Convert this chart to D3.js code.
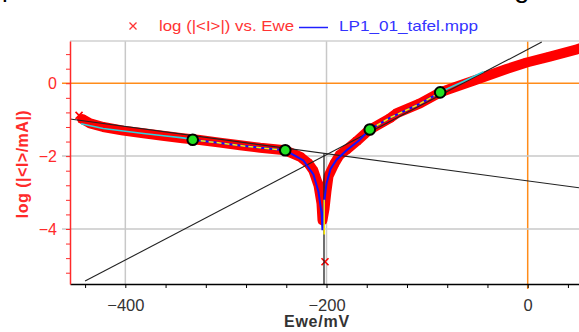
<!DOCTYPE html>
<html>
<head>
<meta charset="utf-8">
<script src="https://cdn.jsdelivr.net/npm/d3@7"></script>
<style>
body { margin: 0; background: #fff; }
svg { display: block; font-family: "Liberation Sans", Arial, sans-serif; }
</style>
</head>
<body>
<div id="chart-area"></div>
<script>
// measured points: Ewe (mV) and log(|I|/mA)
var measE    = [-446, -443, -435, -422, -402, -382, -363, -343, -326, -306, -286, -266, -241, -226, -218, -213, -208, -205, -204, -202, -200, -198, -192, -187, -180, -170, -158, -137, -130, -107, -87, -77, -54, -21, -1, 22, 49, 52];
var measLogI = [-0.88, -0.98, -1.10, -1.20, -1.30, -1.37, -1.44, -1.51, -1.56, -1.63, -1.70, -1.77, -1.84, -2.02, -2.20, -2.40, -2.80, -3.30, -3.76, -3.45, -2.95, -2.55, -2.20, -1.97, -1.82, -1.59, -1.29, -0.96, -0.82, -0.55, -0.25, -0.15, 0.07, 0.39, 0.57, 0.73, 0.93, 0.96];
var strayE = [-201.5];
var strayLogI = [-4.9];

// LP1_01_tafel.mpp curve
var fileE    = [-333, -306, -286, -266, -241, -223, -213, -208, -205, -204, -202.5, -200, -196, -190, -180, -168, -157, -137, -107, -87];
var fileLogI = [-1.55, -1.64, -1.71, -1.77, -1.84, -2.12, -2.50, -2.98, -3.55, -4.03, -3.30, -2.75, -2.35, -2.10, -1.84, -1.58, -1.27, -0.95, -0.56, -0.25];

// fitted curve outside the fit windows
var fitLeftE = [-444, -422, -402, -382, -362, -343, -333];
var fitLeftLogI = [-1.11, -1.24, -1.31, -1.38, -1.44, -1.50, -1.54];
var fitRightE = [-87, -64, -44];
var fitRightLogI = [-0.24, 0.05, 0.32];
var dipE = [-202.3, -202.3];
var dipLogI = [-3.2, -4.15];

// Tafel lines and corrosion point
var anodicE = [-440, 14];
var anodicLogI = [-5.43, 1.13];
var cathodicE = [-455, 51];
var cathodicLogI = [-0.98, -2.87];
var ecorr = -202.5;
var icorrLog = -1.93;

// fit window limits
var markE = [-333, -241, -157, -87];
var markLogI = [-1.55, -1.84, -1.27, -0.25];

var xTickLabels = [-400, -200, 0];
var yTickLabels = [-4, -2, 0];

var width = 579, height = 332;
var margin = { left: 70, right: 0, top: 41, bottom: 48 };
var red = "#ff2a2a";

var svg = d3.select("#chart-area")
    .append("svg")
    .attr("width", width)
    .attr("height", height);

var x = d3.scaleLinear()
    .domain([-455, 51])
    .range([margin.left, width - margin.right]);

var y = d3.scaleLinear()
    .domain([-5.51, 1.16])
    .range([height - margin.bottom, margin.top]);

var pts = function (xs, ys) {
    return xs.map(function (d, i) { return [d, ys[i]]; });
};
var line = d3.line()
    .x(function (d) { return x(d[0]); })
    .y(function (d) { return y(d[1]); });

// descenders of the page text above, clipped by the top edge
svg.append("text").attr("x", 2).attr("y", -3).attr("font-size", "26px").attr("fill", "#000").text("p");
svg.append("text").attr("x", 514).attr("y", -3).attr("font-size", "28px").attr("fill", "#000").text("g");

// grid
var gridColor = function (v) { return v === 0 ? "#ff8c1a" : "#c8c8c8"; };
svg.selectAll(".vgrid")
    .data(xTickLabels)
    .enter().append("line")
    .attr("x1", function (d) { return x(d); })
    .attr("x2", function (d) { return x(d); })
    .attr("y1", y.range()[1])
    .attr("y2", function (d) { return d === 0 ? y.range()[0] + 5 : y.range()[0]; })
    .attr("stroke", gridColor)
    .attr("stroke-width", 1.5);

svg.selectAll(".hgrid")
    .data(yTickLabels)
    .enter().append("line")
    .attr("x1", margin.left - 8)
    .attr("x2", width)
    .attr("y1", function (d) { return y(d); })
    .attr("y2", function (d) { return y(d); })
    .attr("stroke", gridColor)
    .attr("stroke-width", 1.5);

svg.append("line")
    .attr("x1", margin.left).attr("x2", width)
    .attr("y1", y.range()[1]).attr("y2", y.range()[1])
    .attr("stroke", "#d0d0d0").attr("stroke-width", 1.5);

// measured data: dense crosses
var meas = pts(measE, measLogI);
svg.append("path")
    .attr("d", line(meas.slice(1)))
    .attr("fill", "none")
    .attr("stroke", "#ff0000")
    .attr("stroke-width", 10)
    .attr("stroke-linejoin", "round")
    .attr("stroke-linecap", "round");

var cross = "M-3.5,-3.5L3.5,3.5M3.5,-3.5L-3.5,3.5";
svg.selectAll(".cross")
    .data(meas.concat(pts(strayE, strayLogI)))
    .enter().append("path")
    .attr("d", cross)
    .attr("transform", function (d) { return "translate(" + x(d[0]) + "," + y(d[1]) + ")"; })
    .attr("stroke", "#ff0000")
    .attr("stroke-width", 1.6)
    .attr("fill", "none");

// Tafel lines
[pts(anodicE, anodicLogI), pts(cathodicE, cathodicLogI)].forEach(function (p) {
    svg.append("path")
        .attr("d", line(p))
        .attr("fill", "none")
        .attr("stroke", "#222")
        .attr("stroke-width", 1.1);
});
svg.append("line")
    .attr("x1", x(ecorr)).attr("x2", x(ecorr))
    .attr("y1", y(icorrLog)).attr("y2", y.range()[0])
    .attr("stroke", "#222")
    .attr("stroke-width", 1.3);

// file curve
var file = pts(fileE, fileLogI);
svg.append("path")
    .attr("d", line(file))
    .attr("fill", "none")
    .attr("stroke", "#1010ff")
    .attr("stroke-width", 2);

// fit windows in yellow
[file.filter(function (d) { return d[0] <= markE[1]; }), file.filter(function (d) { return d[0] >= markE[2]; }), pts(dipE, dipLogI)].forEach(function (p, i) {
    svg.append("path")
        .attr("d", line(p))
        .attr("fill", "none")
        .attr("stroke", "#ffee00")
        .attr("stroke-width", 1.5)
        .attr("stroke-dasharray", i < 2 ? "5,3" : null);
});

// fitted curve
[pts(fitLeftE, fitLeftLogI), pts(fitRightE, fitRightLogI)].forEach(function (p) {
    svg.append("path")
        .attr("d", line(p))
        .attr("fill", "none")
        .attr("stroke", "#2ad4e0")
        .attr("stroke-width", 1.6);
});

svg.selectAll(".mark")
    .data(pts(markE, markLogI))
    .enter().append("circle")
    .attr("cx", function (d) { return x(d[0]); })
    .attr("cy", function (d) { return y(d[1]); })
    .attr("r", 5.3)
    .attr("fill", "#22e022")
    .attr("stroke", "#000")
    .attr("stroke-width", 2);

// axes
var xAxisMinor = d3.axisBottom(x)
    .tickValues(d3.range(-11, 2).map(function (i) { return i * 40; }))
    .tickSize(4).tickSizeOuter(0).tickFormat("");
var gx = svg.append("g")
    .attr("transform", "translate(0," + y.range()[0] + ")")
    .call(xAxisMinor);
gx.select(".domain").attr("stroke", "#000").attr("stroke-width", 1.5);
gx.selectAll(".tick line").attr("stroke", "#000");

var xAxisCall = d3.axisBottom(x)
    .tickValues(xTickLabels)
    .tickFormat(d3.format("d"))
    .tickSize(4).tickPadding(11).tickSizeOuter(0);
var gxl = svg.append("g")
    .attr("transform", "translate(0," + y.range()[0] + ")")
    .call(xAxisCall);
gxl.select(".domain").remove();
gxl.selectAll(".tick line").remove();
gxl.selectAll("text")
    .attr("font-size", "16.5px")
    .attr("font-family", "Liberation Sans, Arial, sans-serif")
    .attr("fill", "#333");

var yAxisMinor = d3.axisLeft(y)
    .tickValues(d3.range(-13, 3).map(function (i) { return i * 0.4; }))
    .tickSize(4).tickSizeOuter(0).tickFormat("");
var gy = svg.append("g")
    .attr("transform", "translate(" + margin.left + ",0)")
    .call(yAxisMinor);
gy.select(".domain").attr("stroke", red).attr("stroke-width", 1.5);
gy.selectAll(".tick line").attr("stroke", red);

var yAxisCall = d3.axisLeft(y)
    .tickValues(yTickLabels)
    .tickFormat(d3.format("d"))
    .tickSize(8).tickPadding(5).tickSizeOuter(0);
var gyl = svg.append("g")
    .attr("transform", "translate(" + margin.left + ",0)")
    .call(yAxisCall);
gyl.select(".domain").remove();
gyl.selectAll(".tick line").remove();
gyl.selectAll("text")
    .attr("font-size", "16px")
    .attr("font-family", "Liberation Sans, Arial, sans-serif")
    .attr("fill", red);

// axis titles
svg.append("text")
    .attr("x", 317)
    .attr("y", 327)
    .attr("text-anchor", "middle")
    .attr("font-size", "16px")
    .attr("font-weight", "bold")
    .attr("letter-spacing", "0.8px")
    .attr("fill", "#333")
    .text("Ewe/mV");

svg.append("text")
    .attr("transform", "translate(28,164) rotate(-90)")
    .attr("text-anchor", "middle")
    .attr("font-size", "16px")
    .attr("font-weight", "bold")
    .attr("letter-spacing", "0.5px")
    .attr("fill", red)
    .text("log (|<I>/mA|)");

// legend
svg.append("path")
    .attr("d", "M-3.5,-3.5L3.5,3.5M3.5,-3.5L-3.5,3.5")
    .attr("transform", "translate(133,26)")
    .attr("stroke", "#ff3333")
    .attr("stroke-width", 1.3)
    .attr("fill", "none");
svg.append("text")
    .attr("x", 159).attr("y", 31)
    .attr("font-size", "15px")
    .attr("fill", "#ff3333")
    .attr("textLength", 135)
    .attr("lengthAdjust", "spacingAndGlyphs")
    .text("log (|<I>|) vs. Ewe");
svg.append("line")
    .attr("x1", 299).attr("x2", 328)
    .attr("y1", 27.5).attr("y2", 27.5)
    .attr("stroke", "#2020ff")
    .attr("stroke-width", 1.5);
svg.append("text")
    .attr("x", 339).attr("y", 31)
    .attr("font-size", "15px")
    .attr("fill", "#3333ff")
    .attr("textLength", 139)
    .attr("lengthAdjust", "spacingAndGlyphs")
    .text("LP1_01_tafel.mpp");
</script>
</body>
</html>
